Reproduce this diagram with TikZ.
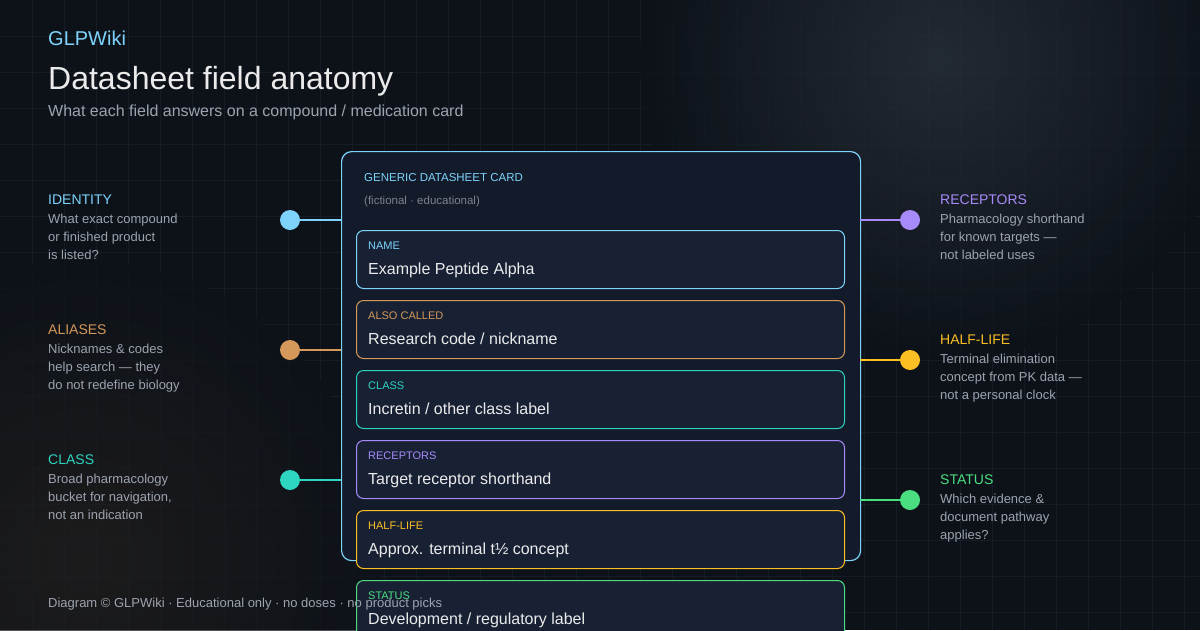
\documentclass[tikz,border=0pt]{standalone}
\usepackage{fontspec}
\setmainfont{Liberation Sans}
\begin{document}
\definecolor{bg}{HTML}{0D1219}
\definecolor{cblue}{HTML}{7DD3FC}
\definecolor{corange}{HTML}{D4985A}
\definecolor{cteal}{HTML}{2DD4BF}
\definecolor{cpurple}{HTML}{A78BFA}
\definecolor{cyellow}{HTML}{FBBF24}
\definecolor{cgreen}{HTML}{4ADE80}
\definecolor{txt}{HTML}{9CA3AF}
\definecolor{cardfill}{HTML}{131A29}
\definecolor{fieldfill}{HTML}{182134}
\definecolor{gridc}{HTML}{161C25}
\definecolor{glow}{HTML}{2A323C}
\definecolor{warm}{HTML}{221F1E}
\begin{tikzpicture}[x=1pt,y=-1pt,
  field/.style={draw=#1,line width=1pt,fill=fieldfill,rounded corners=7pt,minimum width=488pt,minimum height=58pt,anchor=north west},
  flab/.style={text=#1,font=\fontsize{11}{13}\selectfont,anchor=base west},
  fmain/.style={text=white!92!black,font=\fontsize{16}{19}\selectfont,anchor=base west},
  side/.style={text=#1,font=\fontsize{14}{17}\selectfont,anchor=base west},
  desc/.style={text=txt,font=\fontsize{13}{18}\selectfont,anchor=north west,align=left,inner sep=0pt},
  dot/.style={circle,fill=#1,minimum size=20pt,inner sep=0pt},
  conn/.style={draw=#1,line width=1.5pt}]
\useasboundingbox (0,0) rectangle (1200,630);
\clip (0,0) rectangle (1200,630);
\fill[bg] (0,0) rectangle (1200,630);
\foreach \x in {32,64,...,1200} \draw[gridc,line width=0.6pt] (\x,0) -- (\x,630);
\foreach \y in {36,72,...,630} \draw[gridc,line width=0.6pt] (0,\y) -- (1200,\y);
\shade[inner color=glow, outer color=bg, opacity=0.75] (940,60) circle (300);
\shade[inner color=warm, outer color=bg, opacity=0.75] (80,560) circle (300);
% header
\node[anchor=base west,text=cblue,font=\fontsize{20}{24}\selectfont,inner sep=0] (brand) at (48,45) {GLPWiki};
\node[anchor=base west,text=white!92!black,font=\fontsize{32}{38}\selectfont,inner sep=0] (title) at (48,89) {Datasheet field anatomy};
\node[anchor=base west,text=txt,font=\fontsize{16}{19}\selectfont,inner sep=0] (sub) at (48,116) {What each field answers on a compound / medication card};
% card
\node[draw=cblue,line width=1.2pt,fill=cardfill,rounded corners=10pt,minimum width=519pt,minimum height=409pt,anchor=north west] (card) at (341,151) {};
\node[anchor=base west,text=cblue,font=\fontsize{11.5}{13}\selectfont,inner sep=0] (ch) at (364,181) {GENERIC DATASHEET CARD};
\node[anchor=base west,text=txt!80!black,font=\fontsize{11.5}{13}\selectfont,inner sep=0] (cs) at (364,204) {(fictional · educational)};
% connectors
\coordinate (lA) at (341,220); \coordinate (lB) at (341,350); \coordinate (lC) at (341,480);
\coordinate (rA) at (860,220); \coordinate (rB) at (860,360); \coordinate (rC) at (860,500);
\node[dot=cblue] (d1) at (290,220) {}; \draw[conn=cblue] (d1) -- (lA);
\node[dot=corange] (d2) at (290,350) {}; \draw[conn=corange] (d2) -- (lB);
\node[dot=cteal] (d3) at (290,480) {}; \draw[conn=cteal] (d3) -- (lC);
\node[dot=cpurple] (d4) at (910,220) {}; \draw[conn=cpurple] (d4) -- (rA);
\node[dot=cyellow] (d5) at (910,360) {}; \draw[conn=cyellow] (d5) -- (rB);
\node[dot=cgreen] (d6) at (910,500) {}; \draw[conn=cgreen] (d6) -- (rC);
% fields
\foreach \c/\y/\l/\m [count=\i] in {cblue/230/NAME/Example Peptide Alpha, corange/300/ALSO CALLED/Research code \slash{} nickname, cteal/370/CLASS/Incretin \slash{} other class label, cpurple/440/RECEPTORS/Target receptor shorthand, cyellow/510/HALF-LIFE/Approx. terminal t½ concept, cgreen/580/STATUS/Development \slash{} regulatory label}{
  \node[field=\c] (f\i) at (356,\y) {};
  \node[flab=\c,inner sep=0] (fl\i) at (368,\y+19) {\l};
  \node[fmain,inner sep=0] (fm\i) at (368,\y+44) {\m};
}
% side labels
\node[side=cblue,inner sep=0] (t1) at (48,204) {IDENTITY};
\node[desc] (x1) at (48,214) {What exact compound\\or finished product\\is listed?};
\node[side=corange,inner sep=0] (t2) at (48,334) {ALIASES};
\node[desc] (x2) at (48,344) {Nicknames \& codes\\help search — they\\do not redefine biology};
\node[side=cteal,inner sep=0] (t3) at (48,464) {CLASS};
\node[desc] (x3) at (48,474) {Broad pharmacology\\bucket for navigation,\\not an indication};
\node[side=cpurple,inner sep=0] (t4) at (940,204) {RECEPTORS};
\node[desc] (x4) at (940,214) {Pharmacology shorthand\\for known targets —\\not labeled uses};
\node[side=cyellow,inner sep=0] (t5) at (940,344) {HALF-LIFE};
\node[desc] (x5) at (940,354) {Terminal elimination\\concept from PK data —\\not a personal clock};
\node[side=cgreen,inner sep=0] (t6) at (940,484) {STATUS};
\node[desc] (x6) at (940,494) {Which evidence \&\\document pathway\\applies?};
% footer
\node[anchor=base west,text=txt,font=\fontsize{13}{15}\selectfont,inner sep=0] (foot) at (48,607) {Diagram © GLPWiki · Educational only · no doses · no product picks};
\end{tikzpicture}
\end{document}
